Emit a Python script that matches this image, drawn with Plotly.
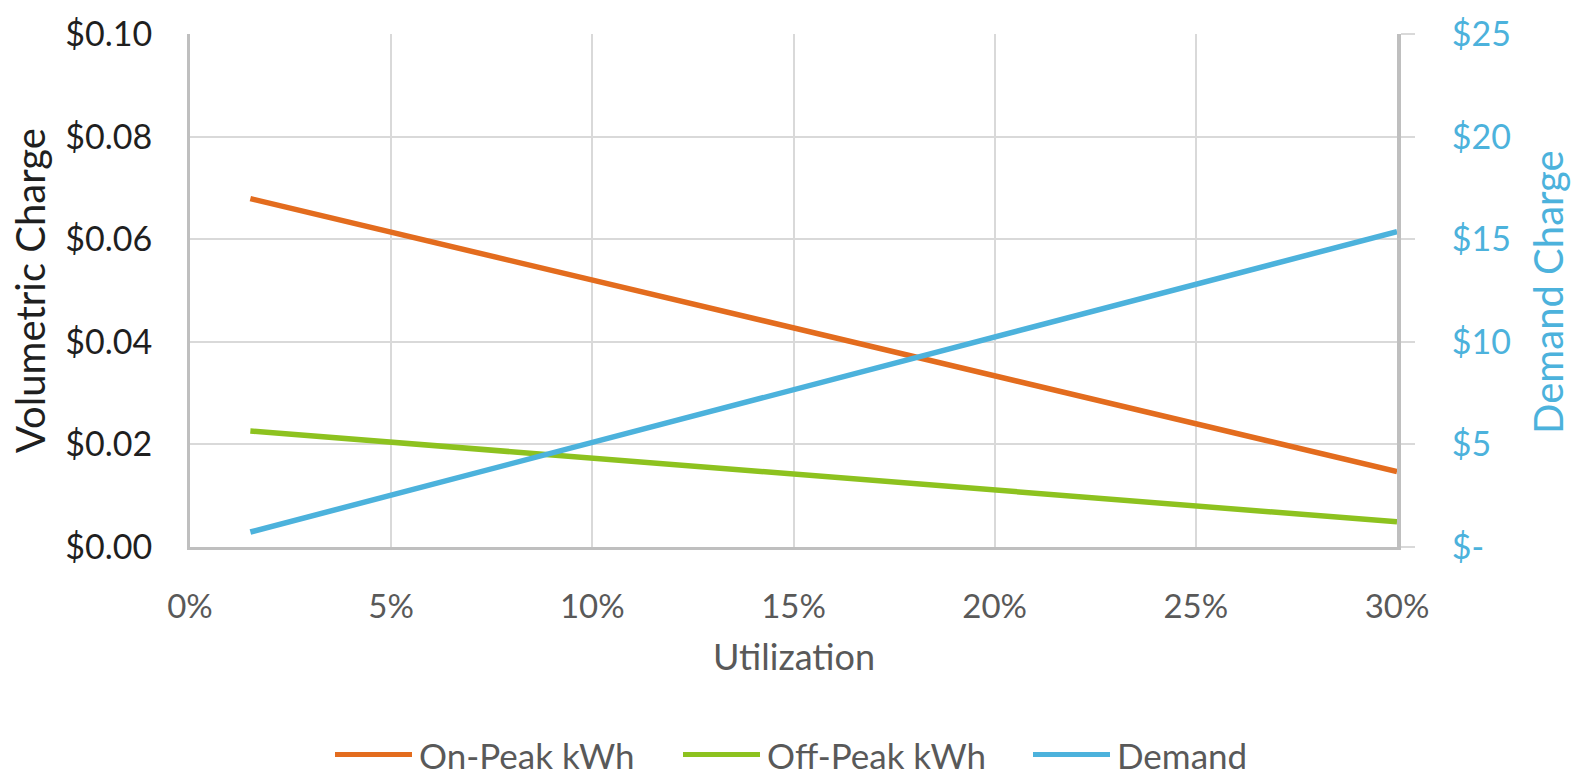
import plotly.graph_objects as go

# Utilization levels (%) and the resulting charges
utilization = [1.5, 5, 10, 15, 20, 25, 30]
on_peak_kwh = [0.0679, 0.0614, 0.0520, 0.0427, 0.0334, 0.0240, 0.0147]
off_peak_kwh = [0.0226, 0.0204, 0.0173, 0.0142, 0.0111, 0.0080, 0.0049]
demand = [0.73, 2.53, 5.10, 7.66, 10.23, 12.80, 15.37]

x_ticks = [0, 5, 10, 15, 20, 25, 30]
x_tick_labels = ["0%", "5%", "10%", "15%", "20%", "25%", "30%"]
left_ticks = [0, 0.02, 0.04, 0.06, 0.08, 0.10]
left_tick_labels = ["$0.00", "$0.02", "$0.04", "$0.06", "$0.08", "$0.10"]
right_ticks = [0, 5, 10, 15, 20, 25]
right_tick_labels = ["$-", "$5", "$10", "$15", "$20", "$25"]

ORANGE = "#E36C1E"
GREEN = "#8DC21F"
BLUE = "#4CB2DC"
GRID = "#D9D9D9"
AXIS = "#BFBFBF"
FONT = "Lato"

fig = go.Figure()
fig.add_trace(go.Scatter(x=utilization, y=on_peak_kwh, mode="lines", name="On-Peak kWh",
                         line=dict(color=ORANGE, width=5.5), yaxis="y"))
fig.add_trace(go.Scatter(x=utilization, y=off_peak_kwh, mode="lines", name="Off-Peak kWh",
                         line=dict(color=GREEN, width=5.5), yaxis="y"))
fig.add_trace(go.Scatter(x=utilization, y=demand, mode="lines", name="Demand",
                         line=dict(color=BLUE, width=5.5), yaxis="y2"))

fig.update_layout(
    width=1582, height=776,
    margin=dict(l=190, r=185, t=28, b=229),
    paper_bgcolor="white", plot_bgcolor="white",
    font=dict(family=FONT, size=33, color="#595959"),
    showlegend=False,
    xaxis=dict(
        range=[0, 30], tickvals=x_ticks, ticktext=x_tick_labels,
        showgrid=True, gridcolor=GRID, gridwidth=1.5,
        showline=True, linecolor=AXIS, linewidth=3,
        ticks="outside", ticklen=0, ticklabelstandoff=28,
        tickfont=dict(color="#595959", size=33),
        zeroline=False, fixedrange=True,
    ),
    yaxis=dict(
        range=[0, 0.10], tickvals=left_ticks, ticktext=left_tick_labels,
        showgrid=True, gridcolor=GRID, gridwidth=1.5,
        showline=True, linecolor=AXIS, linewidth=3,
        ticks="outside", ticklen=0, ticklabelstandoff=28,
        tickfont=dict(color="#1F1F1F", size=34),
        zeroline=False,
    ),
    yaxis2=dict(
        range=[0, 25], tickvals=right_ticks, ticktext=right_tick_labels,
        overlaying="y", side="right", showgrid=False,
        showline=True, linecolor=AXIS, linewidth=4,
        ticks="outside", ticklen=14, tickwidth=1.5, tickcolor=GRID,
        ticklabelstandoff=30,
        tickfont=dict(color=BLUE, size=34),
        zeroline=False,
    ),
)

# Axis titles
fig.add_annotation(text="Volumetric Charge", xref="paper", yref="paper", x=-0.133, y=0.5,
                   textangle=-90, showarrow=False, xanchor="center", yanchor="middle",
                   font=dict(family=FONT, size=40, color="#1F1F1F"))
fig.add_annotation(text="Demand Charge", xref="paper", yref="paper", x=1.125, y=0.497,
                   textangle=-90, showarrow=False, xanchor="center", yanchor="middle",
                   font=dict(family=FONT, size=40, color=BLUE))
fig.add_annotation(text="Utilization", xref="paper", yref="paper", x=0.5, y=-0.212,
                   showarrow=False, xanchor="center", yanchor="middle",
                   font=dict(family=FONT, size=36, color="#595959"))

# Legend drawn as keys + labels along the bottom
legend_items = [("On-Peak kWh", ORANGE), ("Off-Peak kWh", GREEN), ("Demand", BLUE)]
key_x0 = [335, 683, 1033]
key_len = 77
legend_y = 757
for (label, color), x0 in zip(legend_items, key_x0):
    fig.add_shape(type="line", xref="paper", yref="paper",
                  x0=(x0 - 190) / 1207, x1=(x0 + key_len - 190) / 1207,
                  y0=(547 - legend_y) / 519, y1=(547 - legend_y) / 519,
                  line=dict(color=color, width=5))
    fig.add_annotation(text=label, xref="paper", yref="paper",
                       x=(x0 + key_len + 5 - 190) / 1207, y=(547 - legend_y) / 519,
                       showarrow=False, xanchor="left", yanchor="middle",
                       font=dict(family=FONT, size=35, color="#595959"))

fig.write_html("out.html")
